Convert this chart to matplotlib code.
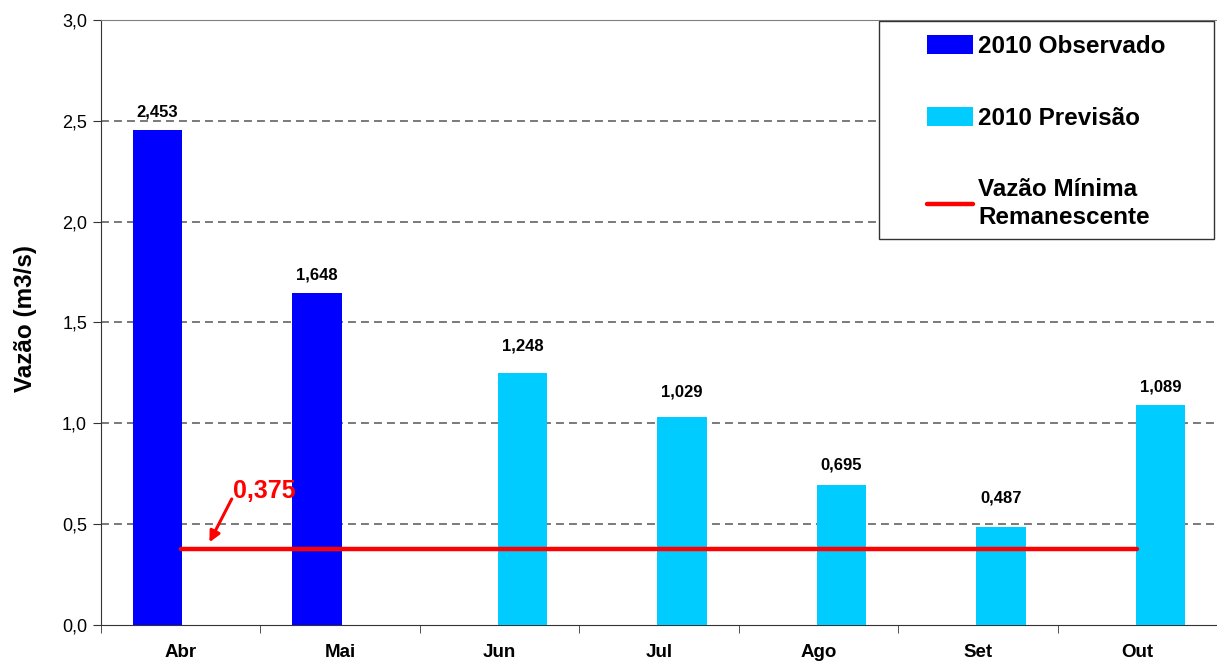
import matplotlib
matplotlib.use('Agg')
import matplotlib.pyplot as plt
from matplotlib.patches import Rectangle
import numpy as np

plt.rcParams['font.family'] = ['Liberation Sans', 'DejaVu Sans']

# dados
meses       = ['Abr', 'Mai', 'Jun', 'Jul', 'Ago', 'Set', 'Out']
obs_meses   = ['Abr', 'Mai']
obs_vazao   = [2.453, 1.648]
prev_meses  = ['Jun', 'Jul', 'Ago', 'Set', 'Out']
prev_vazao  = [1.248, 1.029, 0.695, 0.487, 1.089]
vazao_min   = 0.375

# distancia do rotulo ao topo da barra (pontos)
obs_pad  = [13, 13]
prev_pad = [20, 18, 14, 21, 13]

def fmt(v):
    return ('%.3f' % v).replace('.', ',')

fig = plt.figure(figsize=(12.17, 6.67), dpi=100)
ax = fig.add_axes([0.083, 0.063, 0.917, 0.907])

w   = 0.31
off = 0.145
xi_obs  = np.array([meses.index(m) for m in obs_meses])
xi_prev = np.array([meses.index(m) for m in prev_meses])

b1 = ax.bar(xi_obs - off, obs_vazao, width=w, color='#0000FF', label='2010 Observado', zorder=3)
b2 = ax.bar(xi_prev + off, prev_vazao, width=w, color='#00CCFF', label='2010 Previsão', zorder=3)
ln, = ax.plot([0, len(meses) - 1], [vazao_min, vazao_min], color='#FF0000', lw=3.2,
              solid_capstyle='round', label='Vazão Mínima\nRemanescente', zorder=4)

for bars, vals, pads in [(b1, obs_vazao, obs_pad), (b2, prev_vazao, prev_pad)]:
    for r, v, p in zip(bars, vals, pads):
        ax.annotate(fmt(v), (r.get_x() + r.get_width() / 2, v), xytext=(0, p),
                    textcoords='offset points', ha='center', va='center',
                    fontsize=12, fontweight='bold')

# rotulo da vazao minima com seta
ax.text(0.325, 0.665, fmt(vazao_min), color='#FF0000', fontsize=18, fontweight='bold',
        va='center', ha='left')
ax.annotate('', xy=(0.18, 0.41), xytext=(0.32, 0.625),
            arrowprops=dict(arrowstyle='-|>', color='#FF0000', lw=2.2,
                            mutation_scale=16, shrinkA=0, shrinkB=0))

ax.set_xlim(-0.5, len(meses) - 0.5)
ax.set_ylim(0, 3.0)
ax.set_yticks(np.arange(0, 3.01, 0.5))
ax.set_yticklabels([('%.1f' % t).replace('.', ',') for t in np.arange(0, 3.01, 0.5)], fontsize=13)
ax.set_xticks(range(len(meses)))
ax.set_xticklabels(meses, fontsize=13.5, fontweight='bold')
ax.set_xticks(np.arange(-0.5, len(meses), 1.0), minor=True)
ax.tick_params(axis='x', which='major', length=0, pad=14)
ax.tick_params(axis='x', which='minor', length=6, color='#333333')
ax.tick_params(axis='y', length=6, color='#333333', pad=4)

ax.set_ylabel('Vazão (m3/s)', fontsize=17.5, fontweight='bold')
ax.yaxis.set_label_coords(-0.057, 0.507)

for y in np.arange(0.5, 2.51, 0.5):
    ax.axhline(y, color='#707070', lw=1.3, ls=(0, (4.4, 2.8)), zorder=1)

ax.spines['right'].set_visible(False)
ax.spines['top'].set_color('#808080')
ax.spines['left'].set_color('#333333')
ax.spines['bottom'].set_color('#333333')

# caixa da legenda
ax.add_patch(Rectangle((0.697, 0.638), 0.300, 0.360, transform=ax.transAxes,
                       facecolor='white', edgecolor='#333333', lw=1.0, zorder=5,
                       clip_on=False))
leg = ax.legend(handles=[b1, b2, ln], loc='upper left', bbox_to_anchor=(0.740, 0.975),
                prop={'weight': 'bold', 'size': 17.5}, frameon=False,
                borderpad=0, labelspacing=2.0, handlelength=1.9, handleheight=0.82,
                handletextpad=0.2, borderaxespad=0)
for t in leg.get_texts():
    t.set_linespacing(1.25)
leg.set_zorder(6)

fig.savefig('out.png', dpi=100)
